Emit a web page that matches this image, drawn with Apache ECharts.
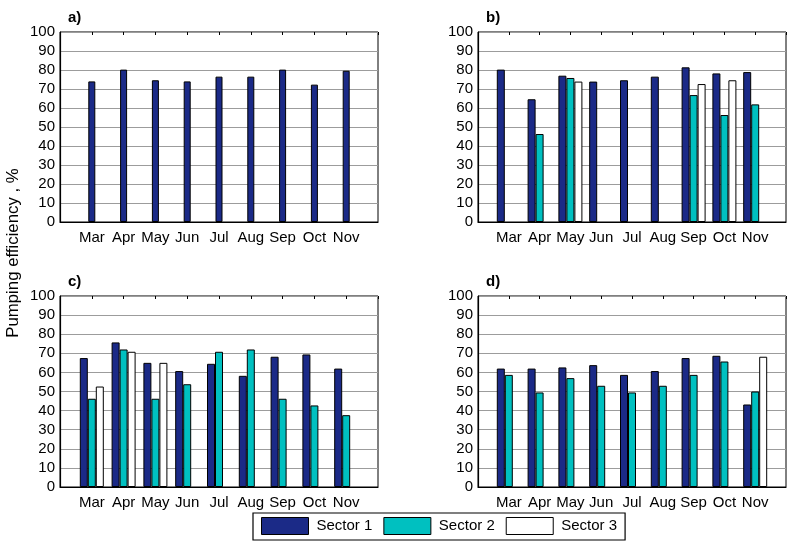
<!DOCTYPE html>
<html>
<head>
<meta charset="utf-8">
<script src="https://cdn.jsdelivr.net/npm/echarts@6/dist/echarts.min.js"></script>
<style>
  html, body { margin: 0; padding: 0; background: #fff; }
  #chart { width: 789px; height: 543px; }
</style>
</head>
<body>
<div id="chart"></div>
<script>
// Month categories (padded with empty slots so the axis runs 0..10)
const months = ['Mar', 'Apr', 'May', 'Jun', 'Jul', 'Aug', 'Sep', 'Oct', 'Nov'];
const yTicks = [0, 10, 20, 30, 40, 50, 60, 70, 80, 90, 100];

// Panel a) – Sector 1 only
const aSector1 = [74, 80.2, 74.6, 74, 76.5, 76.5, 80.2, 72.3, 79.6];

// Panel b)
const bSector1 = [80.2, 64.6, 77, 73.9, 74.6, 76.5, 81.4, 78.2, 78.9];
const bSector2 = [null, 46.3, 75.8, null, null, null, 66.8, 56.3, 61.9];
const bSector3 = [null, null, 73.9, null, null, null, 72.6, 74.6, null];

// Panel c)
const cSector1 = [67.5, 75.7, 65, 60.7, 64.5, 58.2, 68.2, 69.4, 62];
const cSector2 = [46.2, 72, 46.2, 53.8, 70.8, 72, 46.2, 42.7, 37.6];
const cSector3 = [52.6, 70.8, 65, null, null, null, null, null, null];

// Panel d)
const dSector1 = [62, 62, 62.6, 63.8, 58.7, 60.7, 67.5, 68.7, 43.2];
const dSector2 = [58.7, 49.5, 57, 53, 49.5, 53, 58.7, 65.7, 50];
const dSector3 = [null, null, null, null, null, null, null, null, 68.2];

const seriesNames = ['Sector 1', 'Sector 2', 'Sector 3'];
const colors = ['#1b2a87', '#00c0c0', '#ffffff'];
const FONT = '"Liberation Sans", Arial, sans-serif';

const panels = [
  { label: 'a)', left: 60,  top: 32,  height: 190, data: [aSector1] },
  { label: 'b)', left: 478, top: 32,  height: 190, data: [bSector1, bSector2, bSector3] },
  { label: 'c)', left: 60,  top: 296, height: 191, data: [cSector1, cSector2, cSector3] },
  { label: 'd)', left: 478, top: 296, height: 191, data: [dSector1, dSector2, dSector3] }
];

const cats = [''].concat(months, ['']);
const pad = arr => [null].concat(arr, [null]);

const grid = [], xAxis = [], yAxis = [], series = [], graphic = [];

panels.forEach((p, i) => {
  grid.push({
    left: p.left, top: p.top, width: 318, height: p.height,
    show: true, borderColor: '#000', borderWidth: 1, backgroundColor: '#fff'
  });
  // bottom category axis with month labels
  xAxis.push({
    type: 'category', gridIndex: i, data: cats, boundaryGap: false,
    axisLine: { lineStyle: { color: '#000', width: 1.2 } },
    axisTick: { show: false },
    axisLabel: { interval: 0, color: '#000', fontSize: 15, fontFamily: FONT, margin: 8 },
    splitLine: { show: false }
  });
  // top axis carrying the small inward tick marks
  xAxis.push({
    type: 'category', gridIndex: i, data: cats, boundaryGap: false, position: 'top',
    axisLine: { show: false },
    axisTick: { show: true, inside: true, length: 3, interval: 0, lineStyle: { color: '#000' } },
    axisLabel: { show: false },
    splitLine: { show: false }
  });
  yAxis.push({
    type: 'value', gridIndex: i, min: yTicks[0], max: yTicks[yTicks.length - 1], interval: 10,
    axisLine: { show: true, lineStyle: { color: '#000', width: 1.2 } },
    axisTick: { show: false },
    axisLabel: { color: '#000', fontSize: 15, fontFamily: FONT, margin: 5 },
    splitLine: { show: true, lineStyle: { color: '#9c9c9c', width: 1 } }
  });
  p.data.forEach((vals, k) => {
    series.push({
      type: 'bar', name: seriesNames[k],
      xAxisIndex: i * 2, yAxisIndex: i,
      data: pad(vals),
      barWidth: p.data.length === 1 ? 7 : 8,
      barGap: '0%',
      itemStyle: { color: colors[k], borderColor: '#000', borderWidth: 1 },
      silent: true, animation: false
    });
  });
  graphic.push({
    type: 'text', left: p.left + 8, top: p.top - 22,
    style: { text: p.label, font: 'bold 15px ' + FONT, fill: '#000' }
  });
});

// shared y-axis title
graphic.push({
  type: 'text', x: 5, y: 253, rotation: Math.PI / 2,
  style: {
    text: 'Pumping efficiency , %', font: '16.8px ' + FONT, fill: '#000',
    textAlign: 'center', textVerticalAlign: 'top'
  }
});

const chart = echarts.init(document.getElementById('chart'), null, { renderer: 'canvas' });
chart.setOption({
  animation: false,
  backgroundColor: '#fff',
  grid, xAxis, yAxis, series, graphic,
  legend: {
    left: 253, top: 513,
    orient: 'horizontal',
    icon: 'rect', itemWidth: 47, itemHeight: 17, itemGap: 11,
    padding: [4, 8, 5, 8],
    borderColor: '#000', borderWidth: 1.2,
    selectedMode: false,
    textStyle: { color: '#000', fontSize: 15, fontFamily: FONT, padding: [0, 0, 0, 3] },
    data: seriesNames.map((n, k) => ({
      name: n, itemStyle: { color: colors[k], borderColor: '#000', borderWidth: 1 }
    }))
  }
});
</script>
</body>
</html>
